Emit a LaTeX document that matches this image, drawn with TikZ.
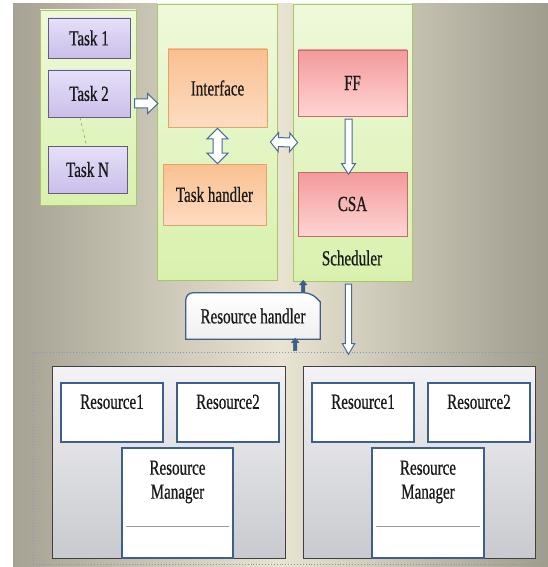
\documentclass[tikz,border=0pt]{standalone}
\usepackage{fontspec}
\setmainfont{Liberation Serif}[FakeStretch=0.7,FakeBold=0.6]
\usetikzlibrary{shapes.arrows,calc,shadows}
\definecolor{bgL}{HTML}{A6A294}
\definecolor{bgM}{HTML}{E9E4D1}
\definecolor{bgR}{HTML}{A09C8E}
\definecolor{panelB}{HTML}{A8C46C}
\definecolor{panelT}{HTML}{EEF9DA}
\definecolor{panelBot}{HTML}{D9F1AE}
\definecolor{taskB}{HTML}{5E5E7E}
\definecolor{taskT}{HTML}{E6E0F8}
\definecolor{taskBot}{HTML}{CBBEEA}
\definecolor{ifB}{HTML}{E3A46A}
\definecolor{ifT}{HTML}{FAC090}
\definecolor{ifBot}{HTML}{FDDCC2}
\definecolor{ffB}{HTML}{C86A6A}
\definecolor{ffT}{HTML}{F39A9A}
\definecolor{ffBot}{HTML}{FFD4D4}
\definecolor{resB}{HTML}{3E5F8A}
\definecolor{arrB}{HTML}{4A6B94}
\definecolor{grpT}{HTML}{F3F3F5}
\definecolor{grpBot}{HTML}{C9CACF}
\definecolor{contB}{HTML}{8797B5}
\definecolor{txtC}{HTML}{1A1A1A}
\newcommand\blockar[3]{\path let \p1=(#1), \p2=(#2), \n1={veclen(\x2-\x1,\y2-\y1)}, \n2={atan2(\y2-\y1,\x2-\x1)} in node[#3, minimum height=\n1, rotate=\n2] at ($(#1)!.5!(#2)$) {};}
\tikzset{
  every node/.style={text=txtC},
  panel/.style={draw=panelB, line width=0.8pt, top color=panelT, bottom color=panelBot, inner sep=0pt},
  taskbox/.style={draw=taskB, line width=0.8pt, top color=taskT, bottom color=taskBot, inner sep=0pt, minimum width=82, drop shadow={opacity=0.35, shadow xshift=1pt, shadow yshift=-1pt}},
  ifbox/.style={draw=ifB, line width=0.8pt, top color=ifT, bottom color=ifBot, inner sep=0pt, drop shadow={opacity=0.25, shadow xshift=1pt, shadow yshift=-1pt}},
  ffbox/.style={draw=ffB, line width=0.8pt, top color=ffT, bottom color=ffBot, inner sep=0pt, minimum width=109, drop shadow={opacity=0.25, shadow xshift=1pt, shadow yshift=-1pt}},
  resbox/.style={draw=resB, line width=1.2pt, fill=white, inner sep=0pt},
  grpbox/.style={draw=black!75, line width=0.8pt, top color=grpT, bottom color=grpBot, inner sep=0pt, minimum width=233, minimum height=192, drop shadow={opacity=0.4, shadow xshift=1.2pt, shadow yshift=-1.2pt}},
  txt/.style={inner sep=0pt, align=center},
  hollow/.style={single arrow, draw=arrB, fill=white, line width=1pt, inner xsep=0pt},
  hollow2/.style={double arrow, draw=arrB, fill=white, line width=1pt, inner xsep=0pt},
  solidar/.style={single arrow, draw=resB, fill=resB, line width=0.5pt, inner xsep=0pt, inner ysep=1.5pt, minimum width=7, single arrow head extend=2, single arrow tip angle=80},
}
\begin{document}
\begin{tikzpicture}[x=1pt,y=-1pt,font=\fontsize{21.5}{24}\selectfont]
\useasboundingbox (0,0) rectangle (548,567);
\fill[left color=bgL, right color=bgR, middle color=bgM] (13,4) rectangle (548,567);

% panels
\node[panel, minimum width=96, minimum height=195] (tasks) at (88,107.5) {};
\node[panel, minimum width=120, minimum height=276] (ifp) at (217,142) {};
\node[panel, minimum width=119, minimum height=277] (sch) at (352.5,142.5) {};

% tasks
\node[taskbox, minimum height=40] (task1) at (89,38) {Task 1};
\node[taskbox, minimum height=47] (task2) at (89,93.5) {Task 2};
\node[taskbox, minimum width=79, minimum height=47] (taskN) at (87.5,169.5) {Task N};
\draw[dashed, line width=0.5pt, black!45] ([xshift=-9pt]task2.south) -- ([xshift=-1pt]taskN.north);

% interface
\node[ifbox, minimum width=99, minimum height=78] (iface) at (217.5,88) {Interface};
\node[ifbox, minimum width=103, minimum height=61] (th) at (214.5,194.5) {Task handler};

% scheduler
\node[ffbox, minimum height=66] (ff) at (352.5,83) {FF};
\node[ffbox, minimum height=64] (csa) at (352.5,204) {CSA};
\node[txt] (schlabel) at (352,258) {Scheduler};

% resource handler
\node[inner sep=0pt, minimum width=134, minimum height=46] (rh) at (253,316) {};
\draw[resB, line width=1.3pt, top color=white, bottom color=black!6]
  [rounded corners=7pt] (rh.south west) -- (rh.north west) -- ($(rh.north east)+(-9,0)$)
  [sharp corners] -- ($(rh.north east)+(0,9)$) -- (rh.south east) -- cycle;
\node[inner sep=0pt] (rht) at (rh.center) {Resource handler};

% container
\node[draw=contB, dotted, line width=0.9pt, inner sep=0pt, minimum width=509, minimum height=212] (cont) at (287.5,458) {};
\node[grpbox] (grpL) at (168.5,462) {};
\node[grpbox, minimum width=232] (grpR) at (419,462) {};

% left group
\node[resbox, minimum width=102, minimum height=59] (r1L) at (112,412.5) {};
\node[txt, anchor=north] (r1Lt) at ([yshift=-12pt]r1L.north) {Resource1};
\node[resbox, minimum width=102, minimum height=59] (r2L) at (228,412.5) {};
\node[txt, anchor=north] (r2Lt) at ([yshift=-12pt]r2L.north) {Resource2};
\node[resbox, minimum width=111, minimum height=110] (rmL) at (177.5,503) {};
\node[txt, anchor=north] (rmLt) at ([yshift=-13pt]rmL.north) {Resource\\Manager};
\draw[black!40, line width=0.8pt] ($(rmL.south west)+(5,-32)$) -- ($(rmL.south east)+(-5,-32)$);

% right group
\node[resbox, minimum width=102, minimum height=59] (r1R) at (363,412.5) {};
\node[txt, anchor=north] (r1Rt) at ([yshift=-12pt]r1R.north) {Resource1};
\node[resbox, minimum width=102, minimum height=59] (r2R) at (479,412.5) {};
\node[txt, anchor=north] (r2Rt) at ([yshift=-12pt]r2R.north) {Resource2};
\node[resbox, minimum width=112, minimum height=110] (rmR) at (428,503) {};
\node[txt, anchor=north] (rmRt) at ([yshift=-13pt]rmR.north) {Resource\\Manager};
\draw[black!40, line width=0.8pt] ($(rmR.south west)+(5,-32)$) -- ($(rmR.south east)+(-5,-32)$);

% arrow end points
\coordinate (a1s) at ([xshift=-4pt,yshift=4pt]tasks.east);
\coordinate (a1e) at ([xshift=-1pt]ifp.west |- a1s);
\coordinate (a2s) at ([yshift=-1pt]iface.south);
\coordinate (a2e) at (a2s |- th.north);
\coordinate (a3s) at ([xshift=-7pt]ifp.east);
\coordinate (a3e) at ([xshift=5pt]sch.west);
\coordinate (a4s) at ([xshift=-4pt]ff.south);
\coordinate (a4e) at (a4s |- csa.north);
\coordinate (a5s) at ([xshift=-4pt]sch.south);
\coordinate (a5e) at (a5s |- cont.north);
\coordinate (a6s) at ([xshift=-17pt]rh.north east);
\coordinate (a6e) at (a6s |- sch.south);
\coordinate (a7e) at ([xshift=-25pt]rh.south east);
\coordinate (a7s) at (a7e |- cont.north);

\blockar{a1s}{a1e}{hollow, inner ysep=4pt, minimum width=19, single arrow head extend=5.5, single arrow tip angle=88}
\blockar{a2s}{a2e}{hollow2, inner ysep=4pt, minimum width=20, double arrow head extend=6, double arrow tip angle=90}
\blockar{a3s}{a3e}{hollow2, inner ysep=4pt, minimum width=18, double arrow head extend=5, double arrow tip angle=100}
\blockar{a4s}{a4e}{hollow, inner ysep=3pt, minimum width=13, single arrow head extend=3.5, single arrow tip angle=66}
\blockar{a5s}{a5e}{hollow, inner ysep=2.7pt, minimum width=11.5, single arrow head extend=3, single arrow tip angle=60}
\blockar{a6s}{a6e}{solidar}
\blockar{a7s}{a7e}{solidar}
\end{tikzpicture}
\end{document}
